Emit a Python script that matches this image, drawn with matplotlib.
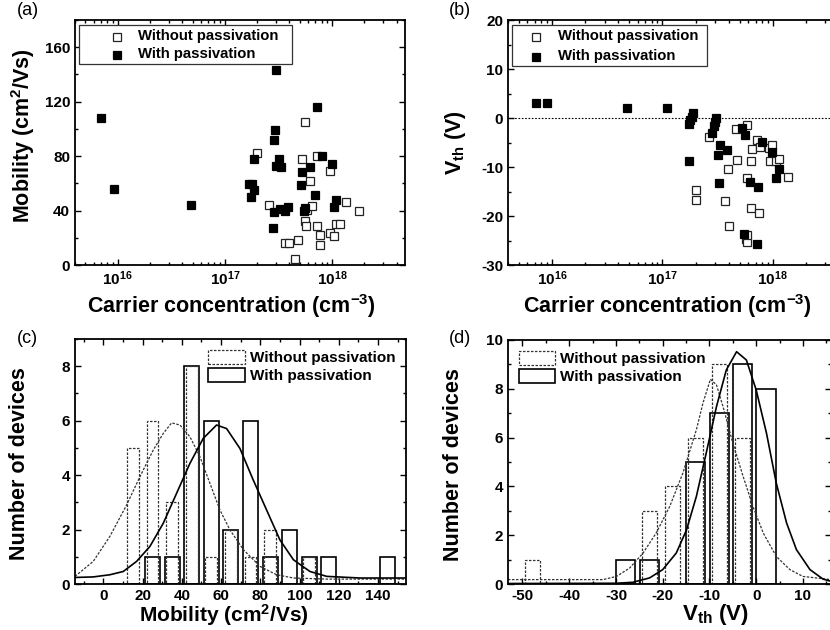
import matplotlib
matplotlib.use('Agg')
import matplotlib.pyplot as plt
from matplotlib.ticker import MultipleLocator, LogLocator, NullFormatter
from matplotlib.patches import Patch, Rectangle

plt.rcParams['font.family'] = ['Liberation Sans', 'DejaVu Sans']
plt.rcParams['font.weight'] = 'bold'
plt.rcParams['axes.labelweight'] = 'bold'
plt.rcParams['axes.unicode_minus'] = False
plt.rcParams['mathtext.fontset'] = 'custom'
plt.rcParams['mathtext.rm'] = 'Liberation Sans:bold'
plt.rcParams['mathtext.it'] = 'Liberation Sans:bold'
plt.rcParams['mathtext.bf'] = 'Liberation Sans:bold'

# ---- (a) mobility vs carrier concentration
a_with_n = [7.0e15, 9.2e15, 4.8e16, 3.0e17, 7.3e17, 2.96e17, 2.87e17, 1.87e17, 3.2e17, 8.0e17,
            3.0e17, 3.34e17, 6.2e17, 9.9e17, 5.3e17, 1.68e17, 1.79e17, 1.87e17, 1.77e17, 5.1e17,
            7.0e17, 1.1e18, 1.04e18, 2.85e17, 3.29e17, 3.66e17, 3.85e17, 5.43e17, 5.55e17, 2.79e17]
a_with_mu = [108, 56, 44, 143.6, 116, 99, 92, 78, 78, 80,
             73, 72, 72, 74, 68, 59.4, 59.4, 55, 50, 59,
             51.5, 48, 42.5, 39, 41, 40, 42.5, 40, 42, 27]
a_wo_n = [2.0e17, 5.64e17, 5.3e17, 7.3e17, 9.6e17, 6.2e17, 2.58e17, 5.9e17, 6.5e17, 1.35e18,
          1.8e18, 5.64e17, 5.75e17, 7.3e17, 9.5e17, 7.65e17, 1.05e18, 1.1e18, 1.18e18, 7.8e17,
          3.66e17, 3.96e17, 4.78e17, 4.54e17]
a_wo_mu = [82, 105, 78, 80, 69, 62, 44, 40.5, 43, 46,
           40, 32, 29, 29, 23.6, 22, 21.6, 30, 30, 15,
           16.4, 16.4, 18.2, 4.4]

# ---- (b) Vth vs carrier concentration
b_with_n = [7.2e15, 9.1e15, 4.8e16, 1.1e17, 1.88e17, 1.86e17, 1.79e17, 1.73e17, 3.06e17, 2.98e17,
            2.92e17, 2.82e17, 1.76e17, 3.36e17, 3.86e17, 3.22e17, 3.29e17, 5.3e17, 5.6e17, 6.2e17,
            7.4e17, 5.5e17, 7.2e17, 8.0e17, 9.9e17, 1.06e18, 1.14e18]
b_with_v = [3.1, 3.1, 2.0, 2.0, 0.95, 0.3, -0.4, -1.2, 0.1, -0.75,
            -1.6, -3.1, -8.8, -5.6, -6.5, -7.6, -13.3, -2.0, -3.5, -13.1,
            -14.0, -23.7, -25.7, -4.8, -6.9, -12.3, -10.4]
b_wo_n = [2.63e17, 4.6e17, 5.8e17, 3.94e17, 4.75e17, 6.3e17, 6.5e17, 5.85e17, 7.2e17, 7.7e17,
          9.2e17, 9.9e17, 9.4e17, 1.06e18, 1.13e18, 1.38e18, 2.02e17, 2.02e17, 3.67e17, 6.4e17,
          7.5e17, 4.0e17, 5.7e17, 5.8e17, 5.9e17]
b_wo_v = [-3.8, -2.2, -1.5, -10.4, -8.6, -8.8, -6.3, -12.3, -4.4, -5.9,
          -6.1, -5.6, -8.8, -8.8, -8.3, -12.1, -14.7, -16.7, -16.9, -18.3,
          -19.3, -22.0, -24.6, -25.3, -23.9]

# ---- (c) mobility histogram (bin start, counts) + fitted curves
mu_bins = [0, 10, 20, 30, 40, 50, 60, 70, 80, 90, 100, 110, 120, 130, 140]
mu_wo_counts = [0, 5, 6, 3, 8, 1, 2, 1, 2, 0, 1, 0, 0, 0, 0]
mu_with_counts = [0, 0, 1, 1, 8, 6, 2, 6, 1, 2, 1, 1, 0, 0, 1]
mu_wo_fit_x = [-14.5, -5.2, 3.3, 11.8, 18.6, 25.4, 30.5, 34.8, 39, 44.1, 49.2, 54.3, 59.4,
               64.5, 71.4, 79.8, 88.3, 96.9, 113.9, 154.7]
mu_wo_fit_y = [0.28, 0.83, 1.75, 2.9, 3.94, 4.92, 5.53, 5.92, 5.84, 5.41, 4.68, 3.70, 2.72,
               1.99, 1.26, 0.65, 0.34, 0.22, 0.18, 0.18]
mu_with_fit_x = [-14.5, -5.2, 3.3, 10.1, 16.9, 23.7, 30.5, 37.3, 44.1, 50.9, 57.7, 62.8, 69.6,
                 76.4, 83.2, 90.0, 96.9, 105.3, 113.9, 130.9, 154.7]
mu_with_fit_y = [0.24, 0.26, 0.34, 0.46, 0.83, 1.38, 2.23, 3.33, 4.43, 5.35, 5.84, 5.71, 4.98,
                 3.82, 2.72, 1.62, 0.89, 0.46, 0.28, 0.22, 0.22]

# ---- (d) Vth histogram
v_bins = [-50, -45, -40, -35, -30, -25, -20, -15, -10, -5, 0]
v_wo_counts = [1, 0, 0, 0, 0, 3, 4, 6, 9, 6, 0]
v_with_counts = [0, 0, 0, 0, 1, 1, 0, 5, 7, 9, 8]
v_wo_fit_x = [-53.1, -32.8, -29.9, -27.1, -24.2, -21.4, -18.5, -15.7, -12.8, -11.4, -9.8, -8.5,
              -7.1, -5.0, -2.8, -0.7, 1.5, 4.3, 7.2, 10.0, 16.0]
v_wo_fit_y = [0.18, 0.18, 0.31, 0.65, 1.27, 2.09, 3.18, 4.54, 6.32, 7.41, 8.39, 8.16,
              7.27, 5.77, 4.41, 3.18, 2.09, 1.13, 0.59, 0.31, 0.18]
v_with_fit_x = [-53.1, -30.0, -26.4, -22.8, -20.0, -17.1, -14.9, -12.8, -10.7, -8.5, -6.4, -4.2,
                -2.1, 0.0, 2.2, 4.3, 6.5, 8.6, 11.5, 14.3, 16.0]
v_with_fit_y = [0.02, 0.03, 0.07, 0.25, 0.59, 1.27, 2.22, 3.59, 5.36, 7.27, 8.77, 9.52,
                9.18, 7.95, 6.18, 4.13, 2.50, 1.41, 0.59, 0.20, 0.11]

lbl_wo = 'Without passivation'
lbl_with = 'With passivation'

W, H = 830, 630
LABEL_FS = 15.5
fig = plt.figure(figsize=(W / 100, H / 100), dpi=100)


def box(l, r, t, b):
    return [l / W, 1 - b / H, (r - l) / W, (b - t) / H]


def style(ax):
    ax.tick_params(which='both', direction='in', top=True, right=True, labelsize=11, width=1)
    ax.tick_params(which='major', length=4.5)
    ax.tick_params(which='minor', length=2.5)
    for s in ax.spines.values():
        s.set_linewidth(1.3)


ax_a = fig.add_axes(box(75, 405, 20, 265))
ax_b = fig.add_axes(box(508, 848, 20, 265))
ax_c = fig.add_axes(box(75, 406, 339, 584))
ax_d = fig.add_axes(box(508, 831, 340, 584))

sq_open = dict(ls='none', marker='s', ms=6, mfc='white', mec='#222222', mew=0.9)
sq_fill = dict(ls='none', marker='s', ms=6, mfc='black', mec='black', mew=0.9)

# (a)
ax_a.plot(a_wo_n, a_wo_mu, **sq_open)
ax_a.plot(a_with_n, a_with_mu, **sq_fill)
ax_a.set_xscale('log')
ax_a.set_xlim(4.0e15, 4.8e18)
ax_a.set_ylim(0, 180)
ax_a.yaxis.set_major_locator(MultipleLocator(40))
ax_a.yaxis.set_minor_locator(MultipleLocator(20))
ax_a.set_xlabel('Carrier concentration (cm$^{-3}$)', fontsize=LABEL_FS)
ax_a.set_ylabel('Mobility (cm$^{2}$/Vs)', fontsize=LABEL_FS)
ax_a.xaxis.set_label_coords(0.473, -0.11)
ax_a.yaxis.set_label_coords(-0.115, 0.53)

# (b)
ax_b.axhline(0, color='black', lw=0.8, ls=(0, (1.5, 1.5)))
ax_b.plot(b_wo_n, b_wo_v, **sq_open)
ax_b.plot(b_with_n, b_with_v, **sq_fill)
ax_b.set_xscale('log')
ax_b.set_xlim(4.0e15, 4.8e18)
ax_b.set_ylim(-30, 20)
ax_b.yaxis.set_major_locator(MultipleLocator(10))
ax_b.yaxis.set_minor_locator(MultipleLocator(5))
ax_b.set_xlabel('Carrier concentration (cm$^{-3}$)', fontsize=LABEL_FS)
ax_b.set_ylabel('V$_{th}$ (V)', fontsize=LABEL_FS)
ax_b.xaxis.set_label_coords(0.47, -0.11)
ax_b.yaxis.set_label_coords(-0.118, 0.5)

# framed legends of the scatter panels, laid out by hand (axes coords)
for ax, (fx0, fx1, fy0, fy1, mx, tx) in ((ax_a, (0.012, 0.657, 0.820, 0.980, 0.127, 0.191)),
                                         (ax_b, (0.011, 0.586, 0.812, 0.980, 0.081, 0.147))):
    ax.xaxis.set_major_locator(LogLocator(base=10, numticks=10))
    ax.xaxis.set_minor_locator(LogLocator(base=10, subs=range(2, 10), numticks=20))
    ax.xaxis.set_minor_formatter(NullFormatter())
    style(ax)
    ax.add_patch(Rectangle((fx0, fy0), fx1 - fx0, fy1 - fy0, transform=ax.transAxes,
                           facecolor='white', edgecolor='#333333', lw=0.9, zorder=5))
    row1 = fy1 - 0.048
    row2 = fy0 + 0.038
    ax.plot([mx], [row1], transform=ax.transAxes, zorder=6, **sq_open)
    ax.plot([mx], [row2], transform=ax.transAxes, zorder=6, **sq_fill)
    ax.text(tx, row1 + 0.004, lbl_wo, transform=ax.transAxes, fontsize=10.7, va='center', zorder=6)
    ax.text(tx, row2 + 0.004, lbl_with, transform=ax.transAxes, fontsize=10.7, va='center', zorder=6)

# histograms
wo_kw = dict(facecolor='none', edgecolor='#333333', linewidth=0.9, linestyle=(0, (2, 1.2)))
with_kw = dict(facecolor='none', edgecolor='black', linewidth=1.2)

ax_c.bar([b + 5 for b in mu_bins], mu_with_counts, width=7.6, **with_kw)
ax_c.bar([b + 5 for b in mu_bins], mu_wo_counts, width=6, **wo_kw)
ax_c.plot(mu_wo_fit_x, mu_wo_fit_y, color='#333333', lw=0.9, ls=(0, (2, 1.2)))
ax_c.plot(mu_with_fit_x, mu_with_fit_y, color='black', lw=1.2)
ax_c.set_xlim(-14.5, 154.3)
ax_c.set_ylim(0, 9)
ax_c.xaxis.set_major_locator(MultipleLocator(20))
ax_c.xaxis.set_minor_locator(MultipleLocator(10))
ax_c.yaxis.set_major_locator(MultipleLocator(2))
ax_c.yaxis.set_minor_locator(MultipleLocator(1))
ax_c.set_xlabel('Mobility (cm$^{2}$/Vs)', fontsize=15)
ax_c.set_ylabel('Number of devices', fontsize=LABEL_FS)
ax_c.xaxis.set_label_coords(0.45, -0.074)
ax_c.yaxis.set_label_coords(-0.136, 0.49)

ax_d.bar([b + 2.1 for b in v_bins], v_with_counts, width=4.1, **with_kw)
ax_d.bar([b + 2.1 for b in v_bins], v_wo_counts, width=3.2, **wo_kw)
ax_d.plot(v_wo_fit_x, v_wo_fit_y, color='#333333', lw=0.9, ls=(0, (2, 1.2)))
ax_d.plot(v_with_fit_x, v_with_fit_y, color='black', lw=1.2)
ax_d.set_xlim(-53.1, 16)
ax_d.set_ylim(0, 10)
ax_d.xaxis.set_major_locator(MultipleLocator(10))
ax_d.xaxis.set_minor_locator(MultipleLocator(5))
ax_d.yaxis.set_major_locator(MultipleLocator(2))
ax_d.yaxis.set_minor_locator(MultipleLocator(1))
ax_d.set_xlabel('V$_{th}$ (V)', fontsize=16)
ax_d.set_ylabel('Number of devices', fontsize=LABEL_FS)
ax_d.xaxis.set_label_coords(0.643, -0.074)
ax_d.yaxis.set_label_coords(-0.136, 0.49)

for ax, loc in ((ax_c, 'upper right'), (ax_d, 'upper left')):
    style(ax)
    h = [Patch(**wo_kw), Patch(**with_kw)]
    ax.legend(h, [lbl_wo, lbl_with], loc=loc, fontsize=11, frameon=False,
              handlelength=2.4, handleheight=1.1, handletextpad=0.3,
              labelspacing=0.15, borderaxespad=0.3)

for x, y, t in ((17, 2, '(a)'), (449, 2, '(b)'), (17, 330, '(c)'), (449, 330, '(d)')):
    fig.text(x / W, 1 - y / H, t, fontsize=13, fontweight='normal', va='top', ha='left')

fig.savefig('out.png', dpi=100)
